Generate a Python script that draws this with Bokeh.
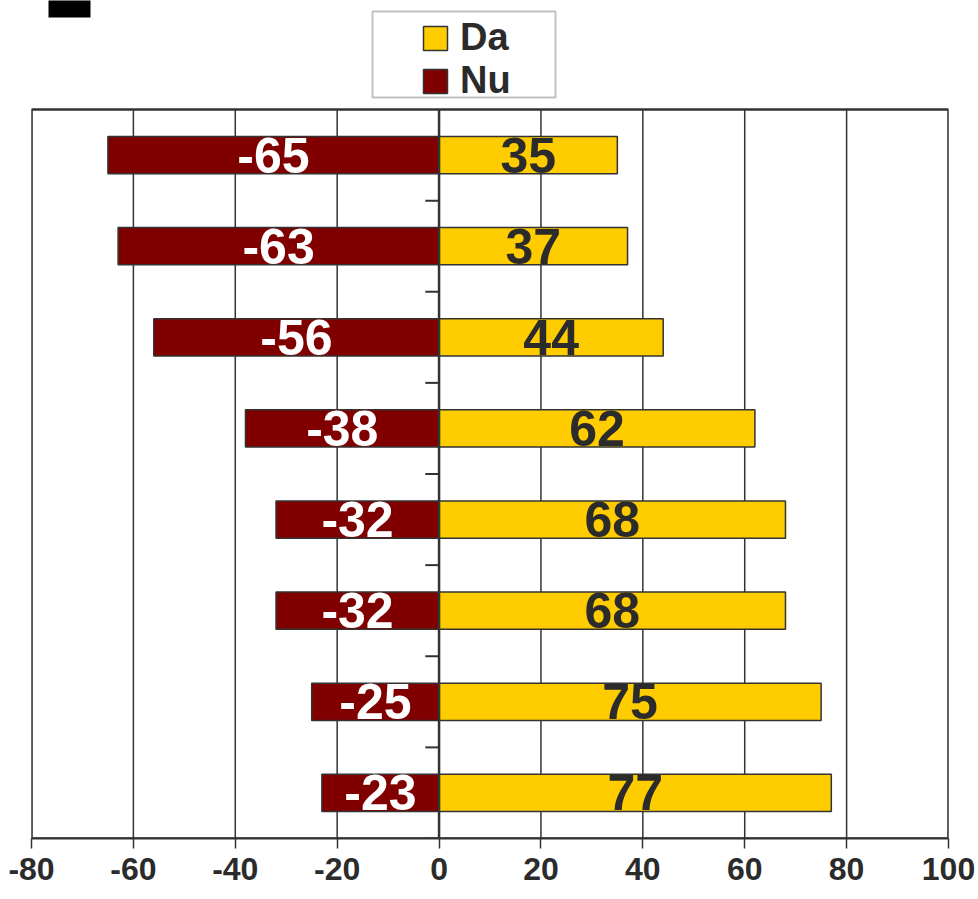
from bokeh.plotting import figure
from bokeh.models import (Range1d, Legend, LegendItem, BoxAnnotation,
                          FixedTicker, ColumnDataSource)
from bokeh.core.properties import value
from bokeh.embed import file_html
from bokeh.resources import INLINE

# ---- data ----
rows = [1, 2, 3, 4, 5, 6, 7, 8]
da_values = [35, 37, 44, 62, 68, 68, 75, 77]
nu_values = [-65, -63, -56, -38, -32, -32, -25, -23]
series_names = ["Da", "Nu"]
x_ticks = [-80, -60, -40, -20, 0, 20, 40, 60, 80, 100]
x_tick_labels = ["-80", "-60", "-40", "-20", "0", "20", "40", "60", "80", "100"]

DA_COLOR = "#FFCC00"
NU_COLOR = "#800000"
LINE = "#333333"
DARK = "#2b2b2b"
FONT = "Liberation Sans"

n = len(rows)
PLOT_H = 729            # height of the bar area in px
TOP_H = 109             # blank band above the bar area (legend lives there)
extra_rows = TOP_H * n / PLOT_H

src = ColumnDataSource(dict(
    y=rows,
    da=da_values,
    nu=nu_values,
    da_mid=[v / 2 for v in da_values],
    nu_mid=[v / 2 for v in nu_values],
    da_txt=[str(v) for v in da_values],
    nu_txt=[str(v) for v in nu_values],
))

p = figure(width=978, height=899,
           x_range=Range1d(x_ticks[0], x_ticks[-1]),
           y_range=Range1d(n + 0.5, 0.5 - extra_rows),
           output_backend="svg", toolbar_location=None,
           min_border_left=31, min_border_right=30,
           min_border_top=0, min_border_bottom=61)

p.background_fill_color = "white"
p.border_fill_color = "white"
p.outline_line_color = None
p.grid.visible = False

# axes
p.yaxis.visible = False
p.xaxis.ticker = FixedTicker(ticks=x_ticks)
p.xaxis.major_label_overrides = dict(zip(x_ticks, x_tick_labels))
p.xaxis.axis_line_color = LINE
p.xaxis.axis_line_width = 2
p.xaxis.major_tick_line_color = LINE
p.xaxis.major_tick_line_width = 1.5
p.xaxis.major_tick_out = 10
p.xaxis.major_tick_in = 0
p.xaxis.minor_tick_line_color = None
p.xaxis.major_label_standoff = 9
p.xaxis.major_label_text_font = FONT
p.xaxis.major_label_text_font_style = "bold"
p.xaxis.major_label_text_font_size = "32px"
p.xaxis.major_label_text_color = DARK

top_edge = 0.5
bottom_edge = n + 0.5

# vertical grid lines limited to the bar area
p.segment(x0=x_ticks, x1=x_ticks, y0=[top_edge] * len(x_ticks),
          y1=[bottom_edge] * len(x_ticks), line_color=LINE, line_width=1.5)

# bars
r_da = p.hbar(y="y", left=0, right="da", height=0.41, source=src,
              fill_color=DA_COLOR, line_color=LINE, line_width=1.5)
r_nu = p.hbar(y="y", left="nu", right=0, height=0.41, source=src,
              fill_color=NU_COLOR, line_color=LINE, line_width=1.5)

# zero line
p.segment(x0=[0], x1=[0], y0=[top_edge], y1=[bottom_edge],
          line_color=LINE, line_width=2.5)

# category boundary ticks on the zero axis
bounds = [r + 0.5 for r in rows]
p.segment(x0=[-2.7] * n, x1=[0] * n, y0=bounds, y1=bounds,
          line_color=LINE, line_width=2)

# outline of the bar area
p.quad(left=[x_ticks[0]], right=[x_ticks[-1]], top=[top_edge], bottom=[bottom_edge],
       fill_color=None, line_color=LINE, line_width=2.5)

# value labels
p.text(x="da_mid", y="y", text="da_txt", source=src, text_align="center",
       text_baseline="middle", text_font=value(FONT), text_font_style="bold",
       text_font_size="50px", text_color=DARK)
p.text(x="nu_mid", y="y", text="nu_txt", source=src, text_align="center",
       text_baseline="middle", text_font=value(FONT), text_font_style="bold",
       text_font_size="50px", text_color="white")

# legend frame and legend
p.add_layout(BoxAnnotation(left=341, right=524, top=827, bottom=741,
                           left_units="screen", right_units="screen",
                           top_units="screen", bottom_units="screen",
                           fill_color="white", fill_alpha=1,
                           line_color=LINE, line_width=2))
legend = Legend(items=[LegendItem(label=series_names[0], renderers=[r_da]),
                       LegendItem(label=series_names[1], renderers=[r_nu])],
                location=(389, 736), padding=0, spacing=-7, margin=0,
                border_line_alpha=0, background_fill_alpha=0,
                glyph_width=30, glyph_height=30, label_standoff=10,
                label_text_font=FONT, label_text_font_style="bold",
                label_text_font_size="38px", label_text_color=DARK)
p.add_layout(legend)

# black fragment at the top-left corner of the picture
p.add_layout(BoxAnnotation(left=17, right=59, top=850, bottom=821,
                           left_units="screen", right_units="screen",
                           top_units="screen", bottom_units="screen",
                           fill_color="black", fill_alpha=1, line_alpha=0))

open("out.html", "w").write(file_html(p, INLINE))
